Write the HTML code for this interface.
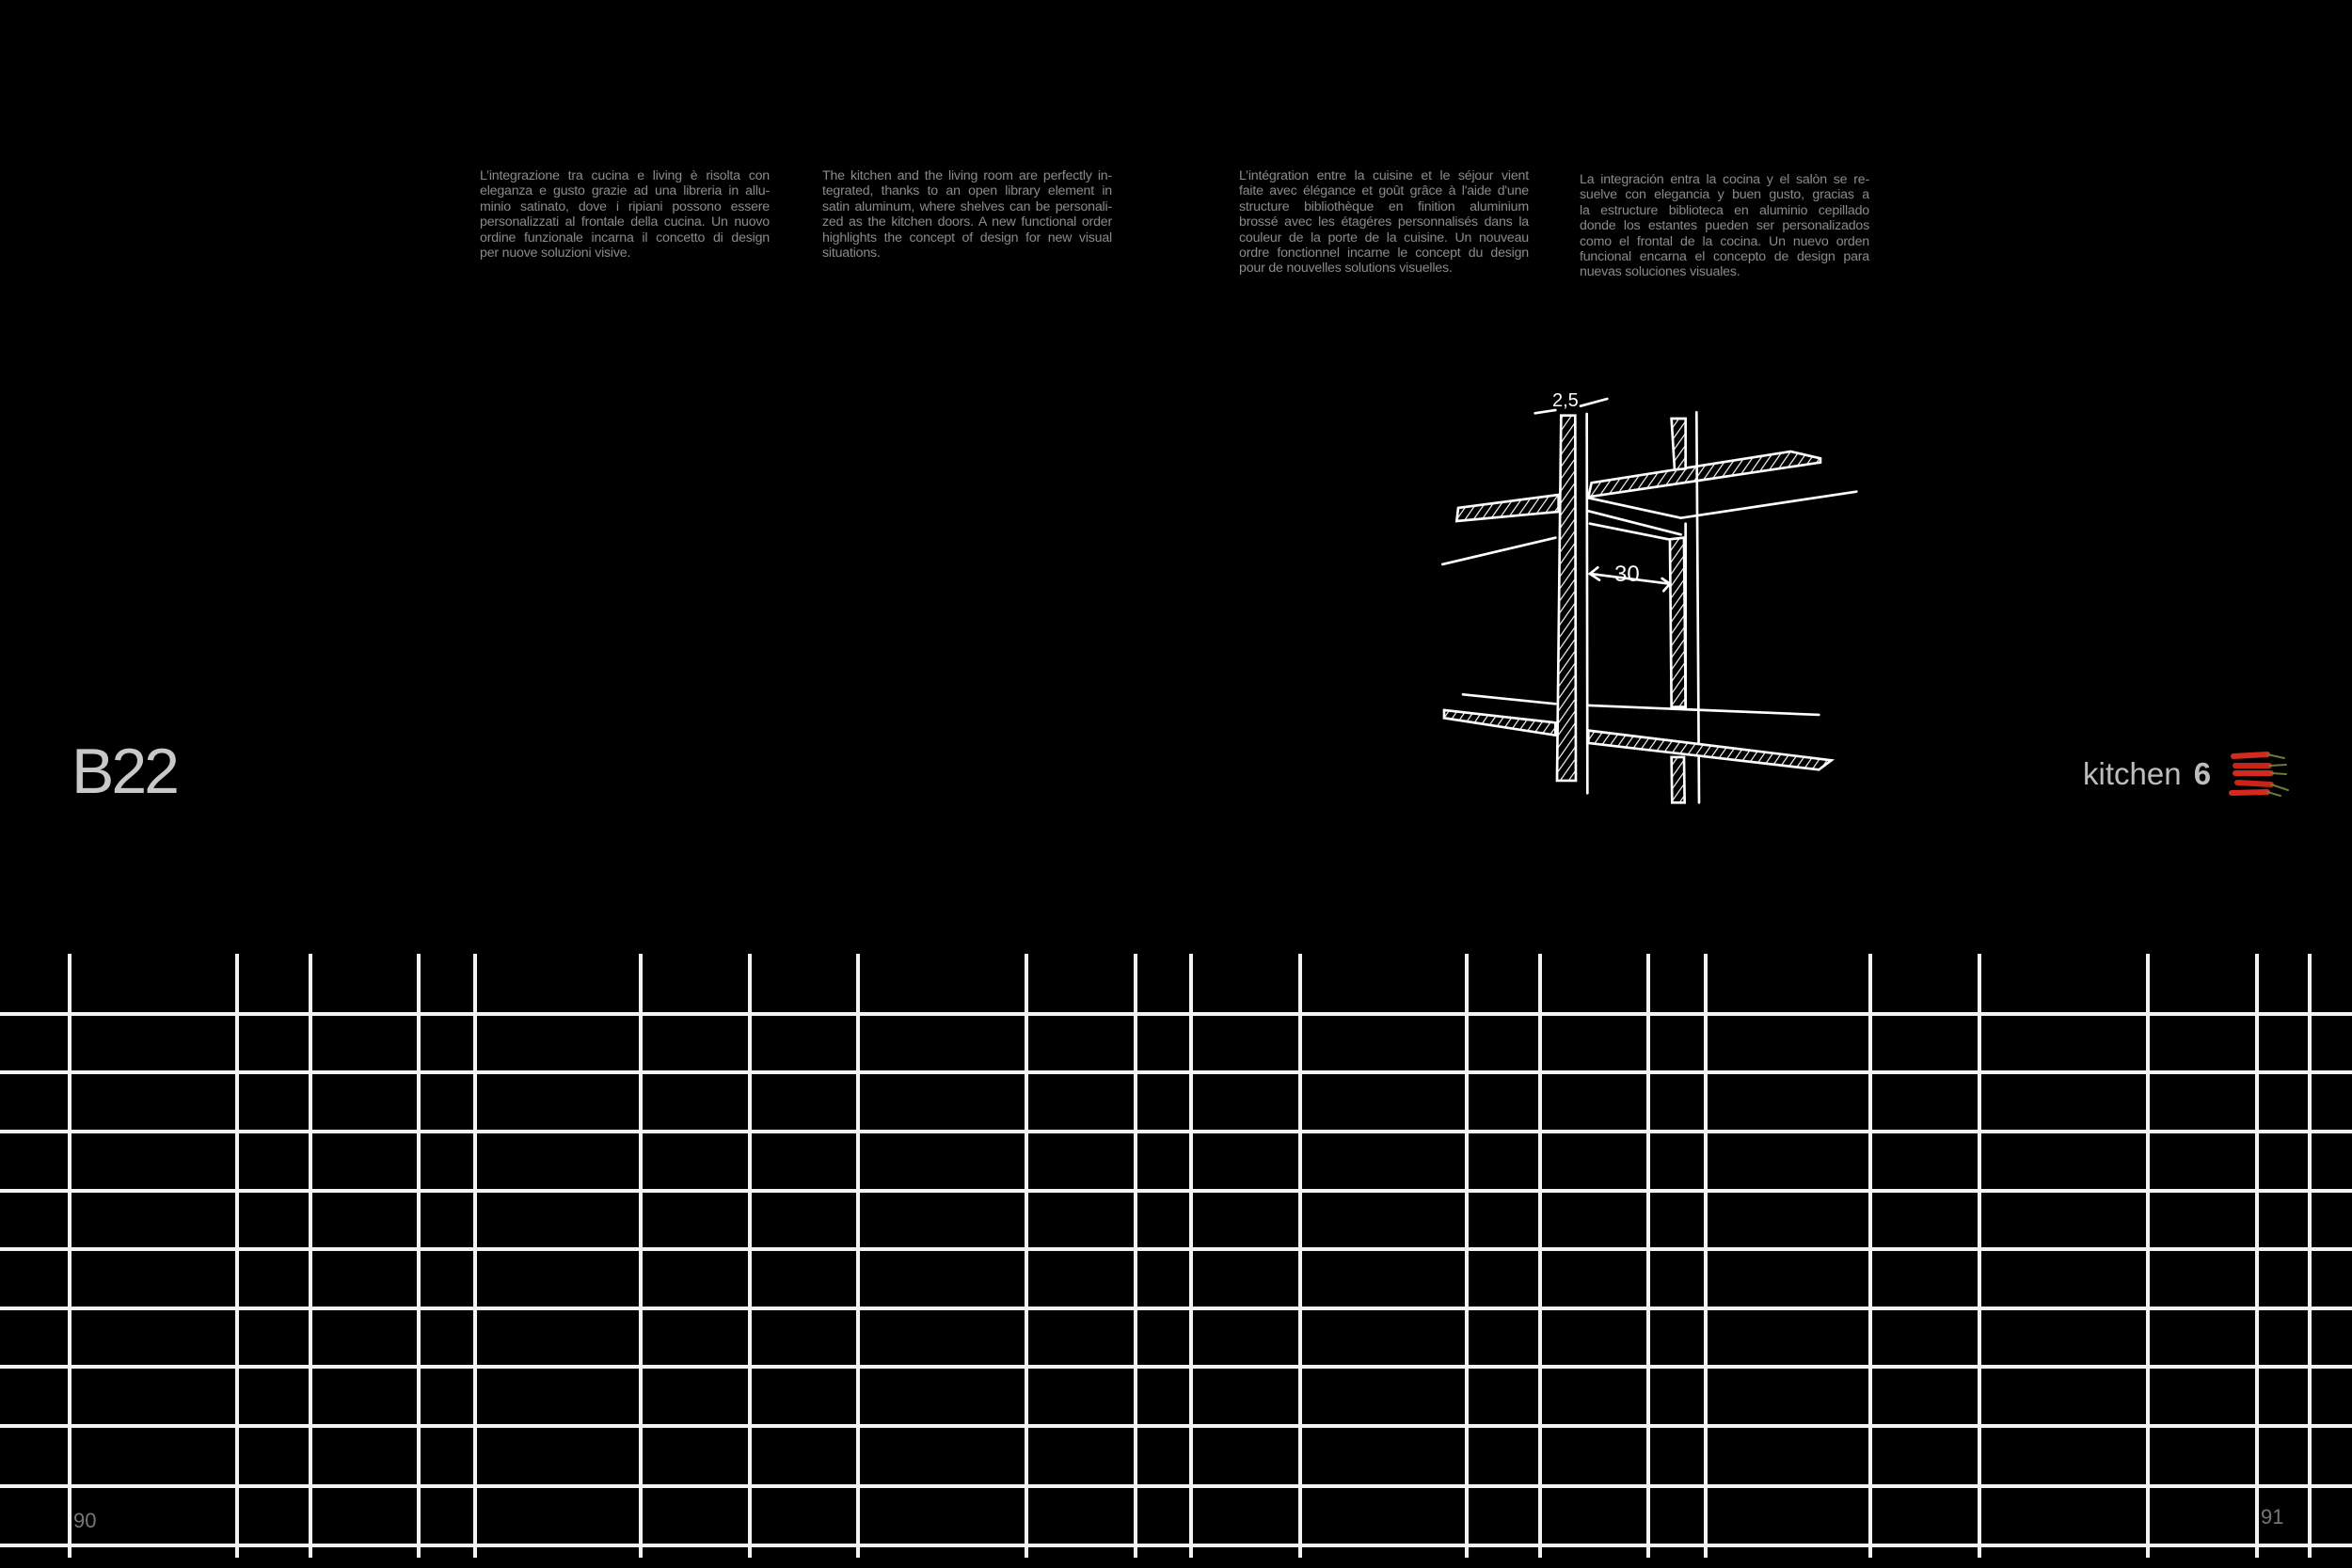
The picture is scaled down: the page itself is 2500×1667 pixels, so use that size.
<!DOCTYPE html>
<html><head><meta charset="utf-8"><style>
html,body{margin:0;padding:0;background:#000;}
body{width:2500px;height:1667px;position:relative;overflow:hidden;font-family:"Liberation Sans",sans-serif;}
.t{position:absolute;color:#8a8a8a;font-size:14.2px;line-height:16.4px;width:308px;letter-spacing:-0.2px;}
.t span{display:block;text-align:justify;text-align-last:justify;white-space:nowrap;}
.t span.l{text-align-last:left;}
</style></head><body>
<div class="t" style="left:510px;top:179px;"><span>L’integrazione tra cucina e living è risolta con</span><span>eleganza e gusto grazie ad una libreria in allu-</span><span>minio satinato, dove i ripiani possono essere</span><span>personalizzati al frontale della cucina. Un nuovo</span><span>ordine funzionale incarna il concetto di design</span><span class="l">per nuove soluzioni visive.</span></div>
<div class="t" style="left:874px;top:179px;"><span>The kitchen and the living room are perfectly in-</span><span>tegrated, thanks to an open library element in</span><span>satin aluminum, where shelves can be personali-</span><span>zed as the kitchen doors. A new functional order</span><span>highlights the concept of design for new visual</span><span class="l">situations.</span></div>
<div class="t" style="left:1317px;top:179px;"><span>L’intégration entre la cuisine et le séjour vient</span><span>faite avec élégance et goût grâce à l'aide d'une</span><span>structure bibliothèque en finition aluminium</span><span>brossé avec les étagéres personnalisés dans la</span><span>couleur de la porte de la cuisine. Un nouveau</span><span>ordre fonctionnel incarne le concept du design</span><span class="l">pour de nouvelles solutions visuelles.</span></div>
<div class="t" style="left:1679px;top:183px;"><span>La integración entra la cocina y el salòn se re-</span><span>suelve con elegancia y buen gusto, gracias a</span><span>la estructure biblioteca en aluminio cepillado</span><span>donde los estantes pueden ser personalizados</span><span>como el frontal de la cocina. Un nuevo orden</span><span>funcional encarna el concepto de design para</span><span class="l">nuevas soluciones visuales.</span></div>

<div style="position:absolute;left:76px;top:782px;font-size:68px;color:#c8c8c8;letter-spacing:-3px;line-height:76px;">B22</div>
<div style="position:absolute;left:2214px;top:803px;font-size:33px;color:#bdbdbd;line-height:40px;">kitchen <b style="margin-left:4px;">6</b></div>
<div style="position:absolute;left:78px;top:1604px;font-size:22px;color:#777;">90</div>
<div style="position:absolute;left:2403px;top:1600px;font-size:22px;color:#777;">91</div>

<svg width="2500" height="1667" style="position:absolute;left:0;top:0" xmlns="http://www.w3.org/2000/svg">
<defs>
<pattern id="h" patternUnits="userSpaceOnUse" width="22" height="22" patternTransform="rotate(35)">
<rect width="22" height="22" fill="#000"/><line x1="0" y1="0" x2="0" y2="22" stroke="#fff" stroke-width="7"/>
</pattern>
</defs>
<g stroke="#f2f2f2" stroke-width="4">
<line x1="0" y1="1078" x2="2500" y2="1078"/>
<line x1="0" y1="1140" x2="2500" y2="1140"/>
<line x1="0" y1="1203" x2="2500" y2="1203"/>
<line x1="0" y1="1266" x2="2500" y2="1266"/>
<line x1="0" y1="1328" x2="2500" y2="1328"/>
<line x1="0" y1="1391" x2="2500" y2="1391"/>
<line x1="0" y1="1453" x2="2500" y2="1453"/>
<line x1="0" y1="1516" x2="2500" y2="1516"/>
<line x1="0" y1="1580" x2="2500" y2="1580"/>
<line x1="0" y1="1643" x2="2500" y2="1643"/>
</g>
<g stroke="#f2f2f2" stroke-width="4">
<line x1="74" y1="1014" x2="74" y2="1656"/>
<line x1="252" y1="1014" x2="252" y2="1656"/>
<line x1="330" y1="1014" x2="330" y2="1656"/>
<line x1="445" y1="1014" x2="445" y2="1656"/>
<line x1="505" y1="1014" x2="505" y2="1656"/>
<line x1="681" y1="1014" x2="681" y2="1656"/>
<line x1="797" y1="1014" x2="797" y2="1656"/>
<line x1="912" y1="1014" x2="912" y2="1656"/>
<line x1="1091" y1="1014" x2="1091" y2="1656"/>
<line x1="1207" y1="1014" x2="1207" y2="1656"/>
<line x1="1266" y1="1014" x2="1266" y2="1656"/>
<line x1="1382" y1="1014" x2="1382" y2="1656"/>
<line x1="1559" y1="1014" x2="1559" y2="1656"/>
<line x1="1637" y1="1014" x2="1637" y2="1656"/>
<line x1="1752" y1="1014" x2="1752" y2="1656"/>
<line x1="1813" y1="1014" x2="1813" y2="1656"/>
<line x1="1988" y1="1014" x2="1988" y2="1656"/>
<line x1="2104" y1="1014" x2="2104" y2="1656"/>
<line x1="2283" y1="1014" x2="2283" y2="1656"/>
<line x1="2399" y1="1014" x2="2399" y2="1656"/>
<line x1="2455" y1="1014" x2="2455" y2="1656"/>
</g>
<g transform="translate(1520,400) scale(0.3333)" stroke="#fff" stroke-width="8" fill="none" stroke-linecap="round">
<polygon points="90,420 410,378 410,432 85,462" fill="url(#h)"/>
<polygon points="515,340 1150,240 1245,262 1245,275 505,385" fill="url(#h)"/>
<polyline points="505,388 800,452 1360,368"/>
<polyline points="505,430 800,505"/>
<polyline points="510,470 760,520"/>
<line x1="40" y1="600" x2="400" y2="515"/>
<polygon points="770,135 815,135 815,295 780,298" fill="url(#h)"/>
<polygon points="765,520 810,515 815,1055 770,1055" fill="url(#h)"/>
<polygon points="770,1215 810,1215 812,1360 772,1360" fill="url(#h)"/>
<line x1="850" y1="115" x2="858" y2="1360"/>
<line x1="815" y1="470" x2="815" y2="1055"/>
<polygon points="418,125 463,125 465,1290 405,1290" fill="url(#h)"/>
<line x1="500" y1="120" x2="502" y2="1330"/>
<polyline points="510,630 765,662"/>
<polyline points="535,610 510,630 540,650"/>
<polyline points="740,645 765,662 745,685"/>
<polyline points="335,118 400,108"/>
<polyline points="480,95 565,72"/>
<line x1="105" y1="1015" x2="400" y2="1045"/>
<line x1="505" y1="1050" x2="1240" y2="1080"/>
<polygon points="45,1065 400,1105 400,1145 45,1090" fill="url(#h)"/>
<polygon points="505,1130 1280,1225 1240,1255 505,1170" fill="url(#h)"/>
</g>
<text x="1650" y="432" fill="#fff" font-family="Liberation Sans,sans-serif" font-size="20">2,5</text>
<text x="1716" y="618" fill="#fff" font-family="Liberation Sans,sans-serif" font-size="24">30</text>
<g stroke-linecap="round">
<line x1="2374" y1="804" x2="2410" y2="802" stroke="#d42a1e" stroke-width="6"/>
<line x1="2376" y1="814" x2="2412" y2="814" stroke="#c92418" stroke-width="6"/>
<line x1="2376" y1="822" x2="2414" y2="822" stroke="#d42a1e" stroke-width="6"/>
<line x1="2378" y1="832" x2="2414" y2="834" stroke="#c92418" stroke-width="6"/>
<line x1="2372" y1="843" x2="2410" y2="842" stroke="#d42a1e" stroke-width="6"/>
<g stroke="#6a7a3a" stroke-width="2">
<line x1="2410" y1="802" x2="2428" y2="806"/><line x1="2412" y1="814" x2="2430" y2="813"/>
<line x1="2414" y1="822" x2="2430" y2="823"/><line x1="2414" y1="834" x2="2432" y2="840"/>
<line x1="2410" y1="842" x2="2424" y2="846"/></g>
</g>
</svg>
</body></html>
